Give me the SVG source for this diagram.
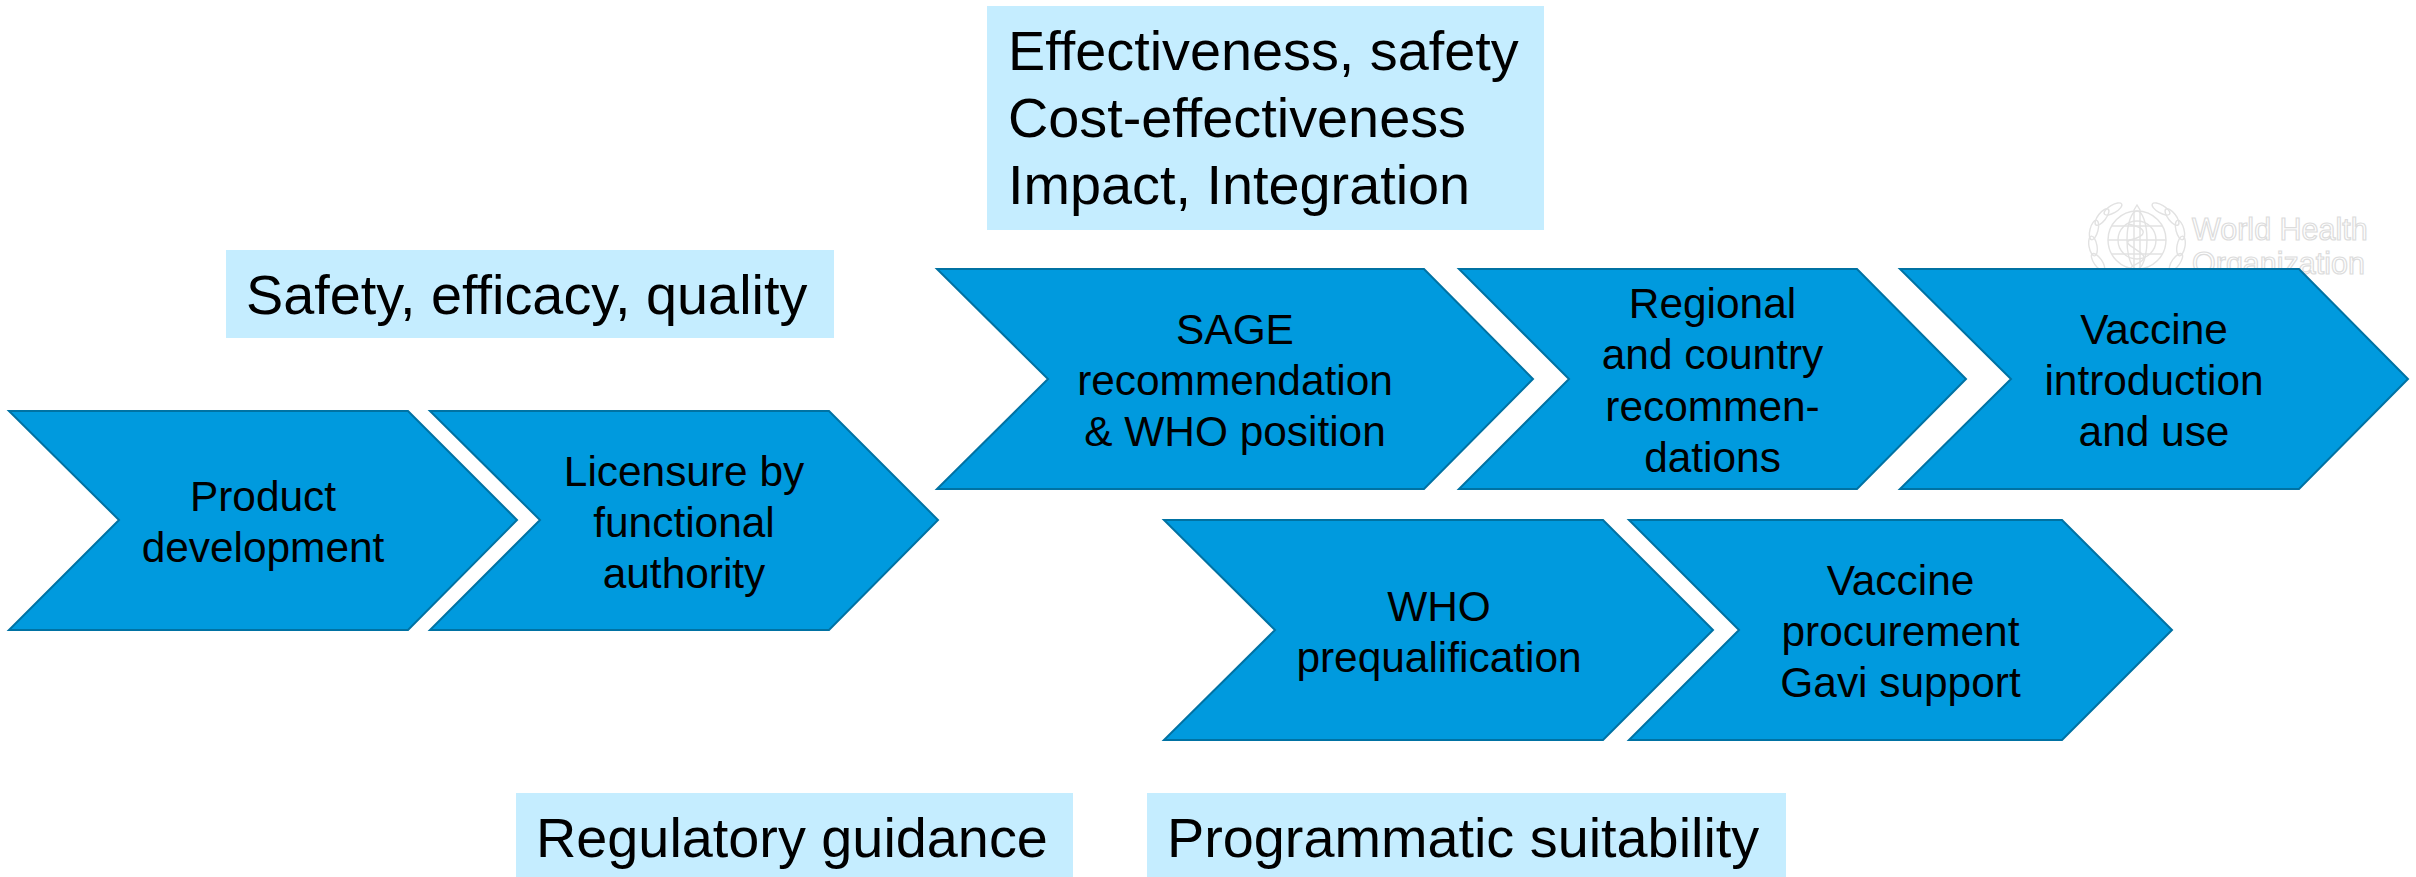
<svg xmlns="http://www.w3.org/2000/svg" xmlns:xlink="http://www.w3.org/1999/xlink" width="2416" height="877" viewBox="0 0 2416 877">
<style>
text{font-family:"Liberation Sans",Arial,sans-serif;fill:#000}
.chev{fill:#009ade;stroke:#0072a3;stroke-width:2}
.box{fill:#c5edff}
.n{font-size:42.4px;text-anchor:middle}
.l{font-size:55.8px}
.logo{fill:none;stroke:#e2e2e2;stroke-width:1.4}
.lt{font-size:30.5px;fill:#fff;stroke:#dcdcdc;stroke-width:1.2}
</style>
<defs>
<ellipse id="leaf" cx="0" cy="0" rx="4" ry="10" class="logo"/>
</defs>
<rect width="2416" height="877" fill="#fff"/>
<g id="who-logo">
<circle class="logo" cx="2137" cy="240" r="29"/>
<circle class="logo" cx="2137" cy="240" r="19"/>
<ellipse class="logo" cx="2137" cy="240" rx="10" ry="29"/>
<path class="logo" d="M2108 240H2166M2112 226H2162M2112 254H2162"/>
<path class="logo" d="M2134 210L2137 205L2140 210V274H2134Z"/>
<path class="logo" d="M2128 224C2148 228 2148 236 2130 240C2120 244 2146 252 2144 258C2142 264 2130 264 2130 270"/>
<g>
<use xlink:href="#leaf" transform="translate(2098 262) rotate(-35)"/>
<use xlink:href="#leaf" transform="translate(2093 246) rotate(-10)"/>
<use xlink:href="#leaf" transform="translate(2094 230) rotate(15)"/>
<use xlink:href="#leaf" transform="translate(2102 217) rotate(38)"/>
<use xlink:href="#leaf" transform="translate(2113 209) rotate(60)"/>
<use xlink:href="#leaf" transform="translate(2176 262) rotate(35)"/>
<use xlink:href="#leaf" transform="translate(2181 246) rotate(10)"/>
<use xlink:href="#leaf" transform="translate(2180 230) rotate(-15)"/>
<use xlink:href="#leaf" transform="translate(2172 217) rotate(-38)"/>
<use xlink:href="#leaf" transform="translate(2161 209) rotate(-60)"/>
</g>
<text class="lt" x="2192" y="240">World Health</text>
<text class="lt" x="2192" y="274">Organization</text>
</g>
<g id="label-safety"><rect class="box" x="226" y="250" width="608" height="88"/><text class="l" x="246" y="314">Safety, efficacy, quality</text></g>
<g id="label-effectiveness"><rect class="box" x="987" y="6" width="557" height="224"/><text class="l" x="1008" y="70">Effectiveness, safety</text><text class="l" x="1008" y="137">Cost-effectiveness</text><text class="l" x="1008" y="204">Impact, Integration</text></g>
<g id="label-regulatory"><rect class="box" x="516" y="793" width="557" height="84"/><text class="l" x="536" y="857">Regulatory guidance</text></g>
<g id="label-programmatic"><rect class="box" x="1147" y="793" width="639" height="84"/><text class="l" x="1167" y="857">Programmatic suitability</text></g>
<g id="product-development"><polygon class="chev" points="9,411 408,411 517,520 408,630 9,630 119,520"/><text class="n" x="263" y="511">Product</text><text class="n" x="263" y="562">development</text></g>
<g id="licensure"><polygon class="chev" points="430,411 829,411 938,520 829,630 430,630 540,520"/><text class="n" x="684" y="486">Licensure by</text><text class="n" x="684" y="537">functional</text><text class="n" x="684" y="588">authority</text></g>
<g id="sage"><polygon class="chev" points="937,269 1424,269 1533,379 1424,489 937,489 1048,379"/><text class="n" x="1235" y="344">SAGE</text><text class="n" x="1235" y="395">recommendation</text><text class="n" x="1235" y="446">&amp; WHO position</text></g>
<g id="regional"><polygon class="chev" points="1459,269 1857,269 1966,379 1857,489 1459,489 1569,379"/><text class="n" x="1712.5" y="318">Regional</text><text class="n" x="1712.5" y="369">and country</text><text class="n" x="1712.5" y="421">recommen-</text><text class="n" x="1712.5" y="472">dations</text></g>
<g id="introduction"><polygon class="chev" points="1900,269 2299,269 2408,379 2299,489 1900,489 2011,379"/><text class="n" x="2154" y="344">Vaccine</text><text class="n" x="2154" y="395">introduction</text><text class="n" x="2154" y="446">and use</text></g>
<g id="prequalification"><polygon class="chev" points="1164,520 1603,520 1713,630 1603,740 1164,740 1275,630"/><text class="n" x="1439" y="621">WHO</text><text class="n" x="1439" y="672">prequalification</text></g>
<g id="procurement"><polygon class="chev" points="1629,520 2062,520 2172,630 2062,740 1629,740 1739,630"/><text class="n" x="1900.5" y="595">Vaccine</text><text class="n" x="1900.5" y="646">procurement</text><text class="n" x="1900.5" y="697">Gavi support</text></g>
</svg>
